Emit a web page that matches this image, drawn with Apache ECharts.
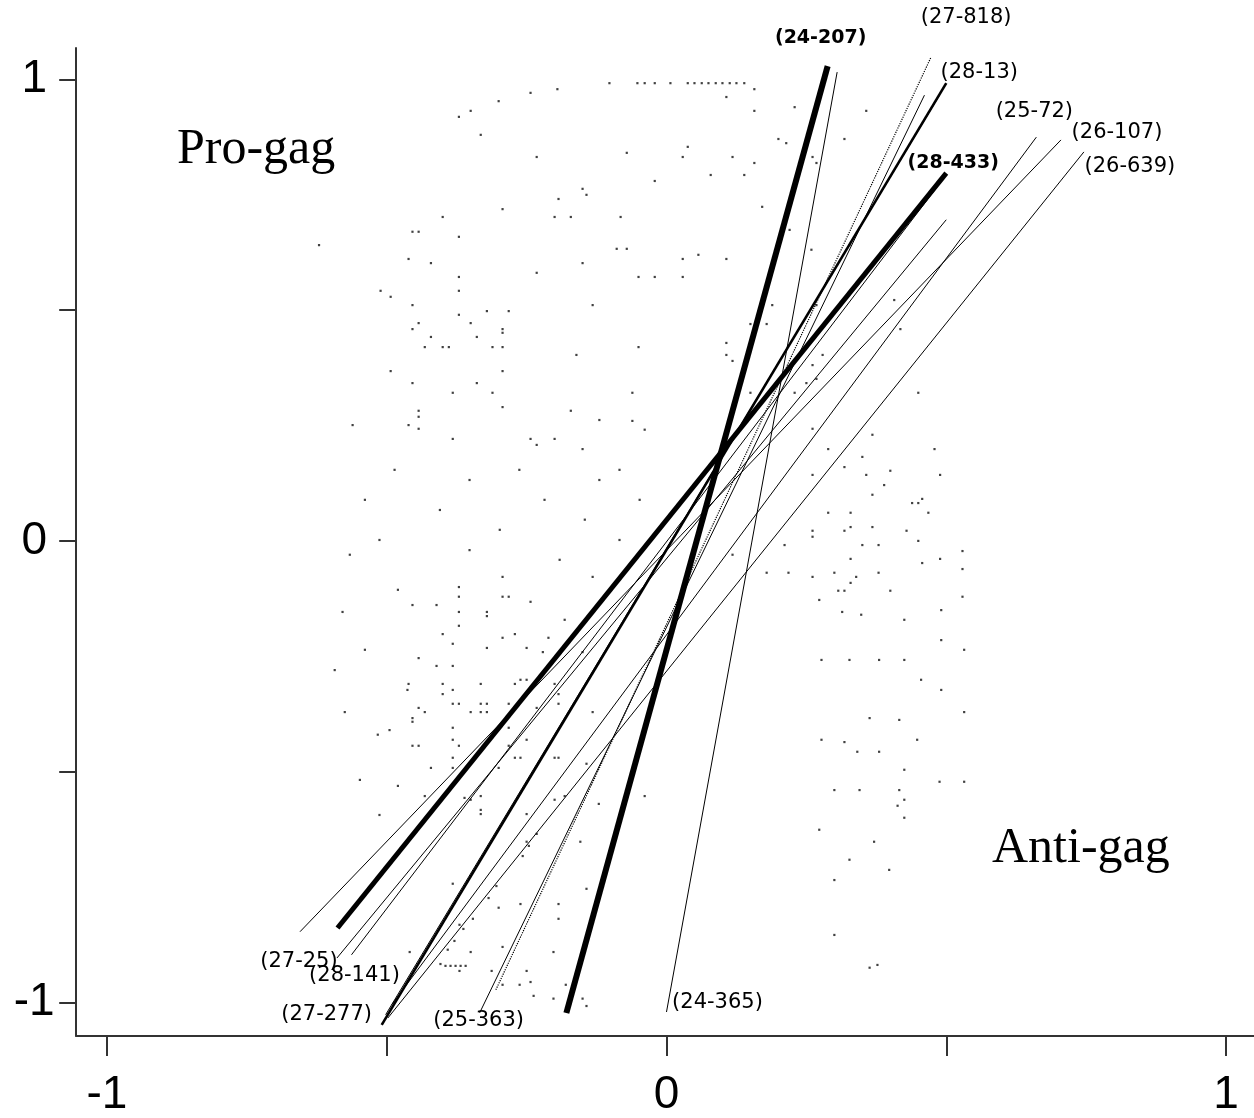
<!DOCTYPE html>
<html><head><meta charset="utf-8">
<script src="https://cdn.jsdelivr.net/npm/echarts@6/dist/echarts.min.js"></script>
<style>html,body{margin:0;padding:0;background:#fff}#c{width:1254px;height:1118px}</style>
</head><body><div id="c"></div>
<script>
// ---- axis ticks ----
const xTicks = [-1, -0.5, 0, 0.5, 1];
const xTickLabels = [-1, 0, 1];
const yTicks = [-1, -0.5, 0, 0.5, 1];
const yTickLabels = [-1, 0, 1];

// ---- cutting lines (roll calls) ----
const rollCallNames = ['(24-207)','(28-433)','(24-365)','(27-818)','(28-13)','(25-72)','(26-107)','(26-639)','(27-25)','(28-141)','(27-277)','(25-363)'];
const cutStart = [[-0.179,-1.023],[-0.588,-0.839],[0.000,-1.021],[-0.305,-0.973],[-0.509,-1.049],[-0.491,-1.005],[-0.655,-0.847],[-0.498,-1.034],[-0.589,-0.904],[-0.563,-0.897],[-0.502,-1.027],[-0.334,-1.023]];
const cutEnd   = [[0.288,1.029],[0.500,0.797],[0.305,1.016],[0.473,1.049],[0.500,0.992],[0.661,0.875],[0.705,0.869],[0.746,0.843],[0.500,0.696],[0.500,0.793],[0.488,0.966],[0.461,0.966]];
const labelEnd = ['end','end','start','end','end','end','end','end','start','start','start','start'];

// ---- legislators' ideal points ----
const memberPoints = [
[-0.102,0.992],[-0.052,0.992],[-0.039,0.992],[-0.021,0.992],[0.007,0.992],
[0.038,0.992],[0.050,0.992],[0.063,0.992],[0.075,0.992],[0.088,0.992],[0.100,0.992],[0.113,0.992],[0.125,0.992],[0.139,0.992],
[0.157,0.979],[-0.195,0.979],[-0.243,0.971],[0.107,0.962],[-0.300,0.953],[-0.350,0.932],[0.157,0.932],[0.229,0.940],[-0.371,0.919],[-0.332,0.880],[0.200,0.871],[0.214,0.862],[0.038,0.854],[-0.232,0.832],[-0.071,0.841],[0.029,0.832],[0.118,0.832],[0.157,0.819],[0.079,0.793],[0.139,0.793],[-0.021,0.780],[-0.150,0.763],[-0.143,0.750],[-0.193,0.741],[-0.293,0.719],[-0.400,0.702],[-0.200,0.702],[-0.171,0.702],[-0.082,0.702],[-0.454,0.670],[-0.443,0.670],[-0.371,0.659],[-0.621,0.641],[-0.089,0.633],[-0.071,0.633],[0.029,0.611],[0.057,0.620],[0.107,0.611],[-0.461,0.611],[-0.421,0.602],[-0.150,0.602],[-0.232,0.581],[-0.050,0.572],[-0.021,0.572],[0.029,0.572],[-0.371,0.572],[-0.511,0.542],[-0.493,0.529],[-0.371,0.542],[-0.454,0.511],[-0.132,0.511],[-0.321,0.498],[-0.282,0.498],[-0.371,0.490],[-0.350,0.472],[-0.443,0.472],[-0.454,0.459],[-0.293,0.459],[-0.293,0.451],[-0.339,0.442],[-0.421,0.442],[-0.432,0.420],[-0.400,0.420],[-0.389,0.420],[-0.311,0.420],[-0.293,0.420],[-0.050,0.420],[0.107,0.429],[0.107,0.403],[0.118,0.390],[-0.161,0.403],[-0.493,0.368],[-0.293,0.368],[-0.454,0.342],[-0.339,0.342],[-0.382,0.321],[-0.311,0.321],[-0.061,0.321],[-0.293,0.290],[-0.171,0.282],[-0.443,0.282],[-0.443,0.269],[-0.061,0.260],[-0.561,0.251],[-0.461,0.251],[-0.443,0.243],[-0.382,0.221],[-0.243,0.221],[-0.200,0.221],[-0.232,0.208],[-0.150,0.199],
[0.357,0.932],[0.318,0.871],[0.261,0.832],[0.268,0.819],
[0.171,0.724],[0.220,0.674],[0.259,0.631],[0.327,0.641],[0.363,0.592],[0.407,0.522],
[0.189,0.511],[0.268,0.511],[0.150,0.470],[0.179,0.470],[0.279,0.403],[0.261,0.381],[0.250,0.342],[0.268,0.351],[0.229,0.321],[0.150,0.321],[0.418,0.459],[0.450,0.321],[0.261,0.243],[0.368,0.230],[0.289,0.199],[0.479,0.199],[0.350,0.182],[0.318,0.160],[0.261,0.143],[0.357,0.143],[0.400,0.152],[0.489,0.143],[0.389,0.121],[0.368,0.100],[0.439,0.082],[0.450,0.082],[0.457,0.091],[0.468,0.061],[0.289,0.061],[0.329,0.061],[0.261,0.022],[0.261,0.009],[0.318,0.022],[0.329,0.030],[0.368,0.030],[0.429,0.022],[0.450,0.000],[0.211,-0.009],[0.350,-0.009],[0.379,-0.009],[0.529,-0.022],[0.329,-0.039],[0.489,-0.039],[0.457,-0.048],[0.529,-0.061],[0.118,-0.030],[0.179,-0.069],[0.218,-0.069],[0.261,-0.078],[0.300,-0.069],[0.339,-0.078],[0.379,-0.069],[0.329,-0.091],[0.307,-0.108],[0.318,-0.108],[0.400,-0.108],[0.529,-0.121],
[-0.293,-0.078],[-0.132,-0.078],[-0.371,-0.100],[-0.371,-0.121],[-0.293,-0.121],[-0.282,-0.121],[-0.454,-0.139],[-0.411,-0.139],[-0.243,-0.132],[-0.371,-0.154],[-0.321,-0.154],[-0.321,-0.163],[-0.182,-0.171],[-0.371,-0.184],[-0.400,-0.202],[-0.271,-0.202],[-0.293,-0.210],[-0.211,-0.210],[-0.382,-0.223],[-0.321,-0.232],[-0.250,-0.232],[-0.221,-0.241],[-0.150,-0.241],[-0.443,-0.254],[-0.411,-0.271],[-0.382,-0.271],[-0.261,-0.301],[-0.250,-0.301],[-0.461,-0.310],[-0.400,-0.310],[-0.332,-0.310],[-0.271,-0.310],[-0.200,-0.310],[-0.382,-0.323],[-0.400,-0.332],[-0.193,-0.332],[-0.443,-0.362],[-0.432,-0.371],[-0.382,-0.353],[-0.371,-0.353],[-0.350,-0.371],[-0.332,-0.353],[-0.321,-0.353],[-0.332,-0.371],[-0.321,-0.371],[-0.282,-0.353],[-0.232,-0.362],[-0.193,-0.353],[-0.132,-0.371],[-0.454,-0.384],[-0.454,-0.392],[-0.382,-0.405],[-0.282,-0.405],[-0.454,-0.444],[-0.443,-0.444],[-0.382,-0.431],[-0.371,-0.444],[-0.282,-0.444],[-0.250,-0.431],[-0.271,-0.470],[-0.261,-0.470],[-0.200,-0.470],[-0.193,-0.470],[-0.382,-0.470],[-0.421,-0.492],[-0.382,-0.492],[-0.300,-0.492],[-0.143,-0.483],[-0.432,-0.553],[-0.361,-0.557],[-0.350,-0.561],[-0.332,-0.553],[-0.200,-0.561],[-0.182,-0.553],[-0.039,-0.553],[-0.121,-0.570],[-0.332,-0.583],[-0.332,-0.592],[-0.250,-0.592],[-0.154,-0.652],[-0.232,-0.635],[-0.250,-0.652],[-0.246,-0.661],[-0.257,-0.683],
[-0.304,-0.748],[-0.382,-0.743],[-0.318,-0.774],[-0.300,-0.795],[-0.261,-0.787],[-0.193,-0.787],[-0.143,-0.754],[-0.193,-0.819],[-0.346,-0.819],[-0.370,-0.832],[-0.363,-0.841],[-0.379,-0.867],[-0.391,-0.886],[-0.293,-0.880],[-0.350,-0.891],[-0.202,-0.891],[-0.459,-0.891],[-0.404,-0.917],[-0.395,-0.921],[-0.386,-0.921],[-0.377,-0.921],[-0.368,-0.921],[-0.359,-0.921],[-0.370,-0.932],[-0.3125,-0.932],[-0.250,-0.932],[-0.293,-0.962],[-0.2625,-0.962],[-0.243,-0.956],[-0.180,-0.962],[-0.2375,-0.986],[-0.202,-0.992],[-0.143,-1.008],[-0.150,-0.992],
[0.273,-0.128],[0.314,-0.154],[0.348,-0.160],[0.425,-0.171],[0.491,-0.150],[0.491,-0.215],[0.532,-0.236],[0.425,-0.258],[0.380,-0.258],[0.327,-0.258],[0.277,-0.258],[0.455,-0.301],[0.491,-0.323],[0.363,-0.384],[0.416,-0.388],[0.532,-0.371],[0.277,-0.431],[0.318,-0.436],[0.341,-0.457],[0.380,-0.457],[0.448,-0.431],[0.425,-0.496],[0.416,-0.540],[0.425,-0.561],[0.413,-0.574],[0.488,-0.522],[0.532,-0.522],[0.345,-0.540],[0.300,-0.540],[0.273,-0.626],[0.371,-0.652],[0.425,-0.600],[0.327,-0.691],[0.300,-0.735],[0.398,-0.713],[0.300,-0.854],[0.363,-0.925],[0.377,-0.919],
[-0.566,-0.030],[-0.579,-0.154],[-0.593,-0.280],[-0.575,-0.371],[-0.516,-0.420],[-0.548,-0.518],[-0.513,-0.594],[-0.480,-0.531],[-0.495,-0.410],[-0.463,-0.323],[-0.539,-0.236],[-0.480,-0.106],[-0.513,0.002],[-0.539,0.089],[-0.486,0.154],
[-0.120,0.132],[-0.084,0.002],[-0.048,0.089],[-0.146,0.046],[-0.191,-0.041],[-0.084,0.154],[-0.039,0.241],[-0.120,0.262],[-0.218,0.089],[-0.263,0.154],[-0.352,0.132],[-0.405,0.067],[-0.298,0.024],[-0.352,-0.020]
];

// ---- styles (not data) ----
const lineWidths = [6, 5, 1, 1.2, 2.6, 1, 1, 1, 1, 1, 1, 1];
const lineTypes  = ['solid','solid','solid','dotted','solid','solid','solid','solid','solid','solid','solid','solid'];
const labelBold  = [true, true, false, false, false, false, false, false, false, false, false, false];
const labelOffsets = [[-7,-28],[7,-10],[51,-9],[35,-39],[33,-11],[-2,-26],[56,-7],[46,15],[-38,4],[3,21],[-59,0],[-1,8]];

const chart = echarts.init(document.getElementById('c'), null, {renderer: 'canvas'});

const series = [];
series.push({
  type: 'scatter', name: 'members', data: memberPoints, symbol: 'rect', symbolSize: 2.2,
  itemStyle: {color: '#111'}, z: 1, silent: true
});
rollCallNames.forEach((nm, i) => {
  series.push({
    type: 'line', name: nm, data: [cutStart[i], cutEnd[i]], showSymbol: false, symbol: 'none',
    lineStyle: {color: '#000', width: lineWidths[i], type: lineTypes[i], cap: 'butt'},
    z: 2, silent: true
  });
});
series.push({
  type: 'scatter', name: 'labels', symbolSize: 0, z: 5, silent: true,
  itemStyle: {color: '#000', opacity: 1},
  data: rollCallNames.map((nm, i) => ({
    value: labelEnd[i] === 'end' ? cutEnd[i] : cutStart[i],
    label: {
      show: true, position: 'inside', formatter: nm, offset: labelOffsets[i],
      color: '#000', opacity: 1,
      textBorderWidth: 0, textBorderColor: 'transparent',
      fontFamily: 'DejaVu Sans',
      fontWeight: labelBold[i] ? 'bold' : 'normal',
      fontSize: labelBold[i] ? 19 : 21
    }
  }))
});

chart.setOption({
  animation: false,
  backgroundColor: '#fff',
  grid: {left: 76.2, top: 48.1, width: 1178.8, height: 988.1, containLabel: false},
  xAxis: {
    type: 'value', min: -1.055, max: 1.05,
    splitLine: {show: false},
    axisLine: {show: true, onZero: false, lineStyle: {color: '#333', width: 2}},
    axisTick: {show: true, customValues: xTicks, length: 20, lineStyle: {color: '#333', width: 2}},
    axisLabel: {show: true, customValues: xTickLabels, fontSize: 46, fontFamily: 'Liberation Sans', color: '#000', margin: 36}
  },
  yAxis: {
    type: 'value', min: -1.073, max: 1.068,
    splitLine: {show: false},
    axisLine: {show: true, onZero: false, lineStyle: {color: '#333', width: 2}},
    axisTick: {show: true, customValues: yTicks, length: 17, lineStyle: {color: '#333', width: 2}},
    axisLabel: {show: true, customValues: yTickLabels, fontSize: 46, fontFamily: 'Liberation Sans', color: '#000', margin: 42, align: 'center'}
  },
  graphic: [
    {type: 'text', left: 177, top: 125, style: {text: 'Pro-gag', font: '50px "Liberation Serif", "Times New Roman", serif', fill: '#000'}},
    {type: 'text', left: 992, top: 824, style: {text: 'Anti-gag', font: '50px "Liberation Serif", "Times New Roman", serif', fill: '#000'}}
  ],
  series: series
});
</script>
</body></html>
